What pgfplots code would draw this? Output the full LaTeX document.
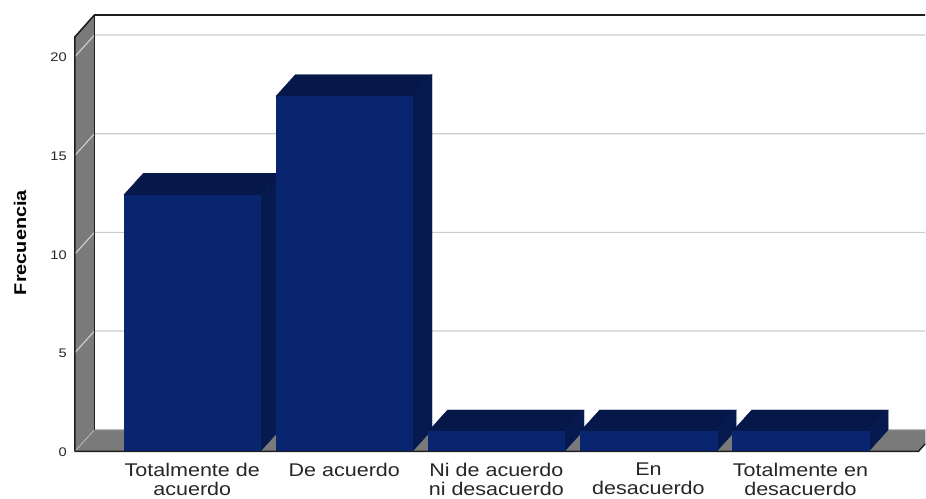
\documentclass[border=0pt]{standalone}
\usepackage{fontspec}
\setmainfont[FakeStretch=1.17]{Liberation Sans}
\usepackage{pgfplots}
\pgfplotsset{compat=1.18}
\definecolor{wallg}{HTML}{7A7A7A}
\definecolor{gridg}{HTML}{CCCCCC}
\definecolor{barfront}{HTML}{0A2570}
\definecolor{bartop}{HTML}{06184A}
\definecolor{barside}{HTML}{061A50}
\definecolor{edge}{HTML}{1E1E1E}
\pgfplotsset{
  poly/.style={forget plot,no marks,draw=#1,fill=#1,line width=0.3pt},
  ln/.style={forget plot,no marks},
}
\begin{document}
\begin{tikzpicture}
\begin{axis}[
  scale only axis,
  width=851pt,height=436.7pt,
  xmin=75,xmax=926,ymin=0,ymax=22.11,
  clip=false,
  axis lines=left,
  axis line style={draw=none},
  tick style={draw=none},
  major tick length=0pt,
  ytick={0,5,10,15,20},
  xtick={192.4,344.6,496.8,649,801.2},
  xticklabels={{Totalmente de\\acuerdo},{De acuerdo},{Ni de acuerdo\\ni desacuerdo},{En\\desacuerdo},{Totalmente en\\desacuerdo}},
  /pgf/number format/assume math mode=true,
  yticklabel style={font=\fontsize{12.5}{14}\selectfont,inner sep=0pt,xshift=-8pt,yshift=-0.8pt,text=black!85},
  xticklabel style={font=\fontsize{18.4}{19.6}\selectfont,align=center,inner sep=0pt,anchor=north,yshift=-11.2pt,text=black!85},
  ylabel={\textbf{Frecuencia}},
  every axis y label/.style={at={(rel axis cs:-0.0646,0.4785)},rotate=90,anchor=center,font=\fontsize{17}{19}\selectfont},
]
% picture bounds
\path (axis cs:0,-2.395) rectangle (axis cs:926,22.87);
% walls
\addplot[poly=wallg] coordinates {(75,0)(94.5,1.094)(94.5,22.11)(75,21.0)} -- cycle;
\addplot[poly=wallg] coordinates {(75,0)(919.3,0)(926,0.38)(926,1.11)(94.5,1.11)} -- cycle;
% grid
\addplot[ln,draw=gridg,line width=1.2pt] coordinates {(75,5)(94.5,6.094)(926,6.094)};
\addplot[ln,draw=gridg,line width=1.2pt] coordinates {(75,10)(94.5,11.094)(926,11.094)};
\addplot[ln,draw=gridg,line width=1.2pt] coordinates {(75,15)(94.5,16.094)(926,16.094)};
\addplot[ln,draw=gridg,line width=1.2pt] coordinates {(75,20)(94.5,21.094)(926,21.094)};
\addplot[ln,draw=gridg,line width=0.6pt] coordinates {(75,0)(94.5,1.094)(926,1.094)};
% edges
\addplot[ln,draw=edge,line width=1.6pt] coordinates {(75,0)(75,21)(94.5,22.11)(926,22.11)};
\addplot[ln,draw=edge,line width=1.8pt] coordinates {(94.5,1.094)(94.5,22.11)};
\addplot[ln,draw=edge,line width=1.4pt] coordinates {(75,0)(919.3,0)(926,0.38)};
% bar 1 (13)
\addplot[poly=barside] coordinates {(260.7,0)(280.2,1.094)(280.2,14.094)(260.7,13)} -- cycle;
\addplot[poly=bartop] coordinates {(124,13)(143.5,14.094)(280.2,14.094)(260.7,13)} -- cycle;
\addplot[poly=barfront] coordinates {(124,0)(260.7,0)(260.7,13)(124,13)} -- cycle;
% bar 2 (18)
\addplot[poly=barside] coordinates {(412.9,0)(432.4,1.094)(432.4,19.094)(412.9,18)} -- cycle;
\addplot[poly=bartop] coordinates {(276.2,18)(295.7,19.094)(432.4,19.094)(412.9,18)} -- cycle;
\addplot[poly=barfront] coordinates {(276.2,0)(412.9,0)(412.9,18)(276.2,18)} -- cycle;
% bar 3 (1)
\addplot[poly=barside] coordinates {(565.1,0)(584.6,1.094)(584.6,2.094)(565.1,1)} -- cycle;
\addplot[poly=bartop] coordinates {(428.4,1)(447.9,2.094)(584.6,2.094)(565.1,1)} -- cycle;
\addplot[poly=barfront] coordinates {(428.4,0)(565.1,0)(565.1,1)(428.4,1)} -- cycle;
% bar 4 (1)
\addplot[poly=barside] coordinates {(717.3,0)(736.8,1.094)(736.8,2.094)(717.3,1)} -- cycle;
\addplot[poly=bartop] coordinates {(580.6,1)(600.1,2.094)(736.8,2.094)(717.3,1)} -- cycle;
\addplot[poly=barfront] coordinates {(580.6,0)(717.3,0)(717.3,1)(580.6,1)} -- cycle;
% bar 5 (1)
\addplot[poly=barside] coordinates {(869.5,0)(889,1.094)(889,2.094)(869.5,1)} -- cycle;
\addplot[poly=bartop] coordinates {(732.8,1)(752.3,2.094)(889,2.094)(869.5,1)} -- cycle;
\addplot[poly=barfront] coordinates {(732.8,0)(869.5,0)(869.5,1)(732.8,1)} -- cycle;
\addplot[ln,draw=edge,line width=1.2pt] coordinates {(124,0)(869.5,0)};
\end{axis}
\end{tikzpicture}
\end{document}
